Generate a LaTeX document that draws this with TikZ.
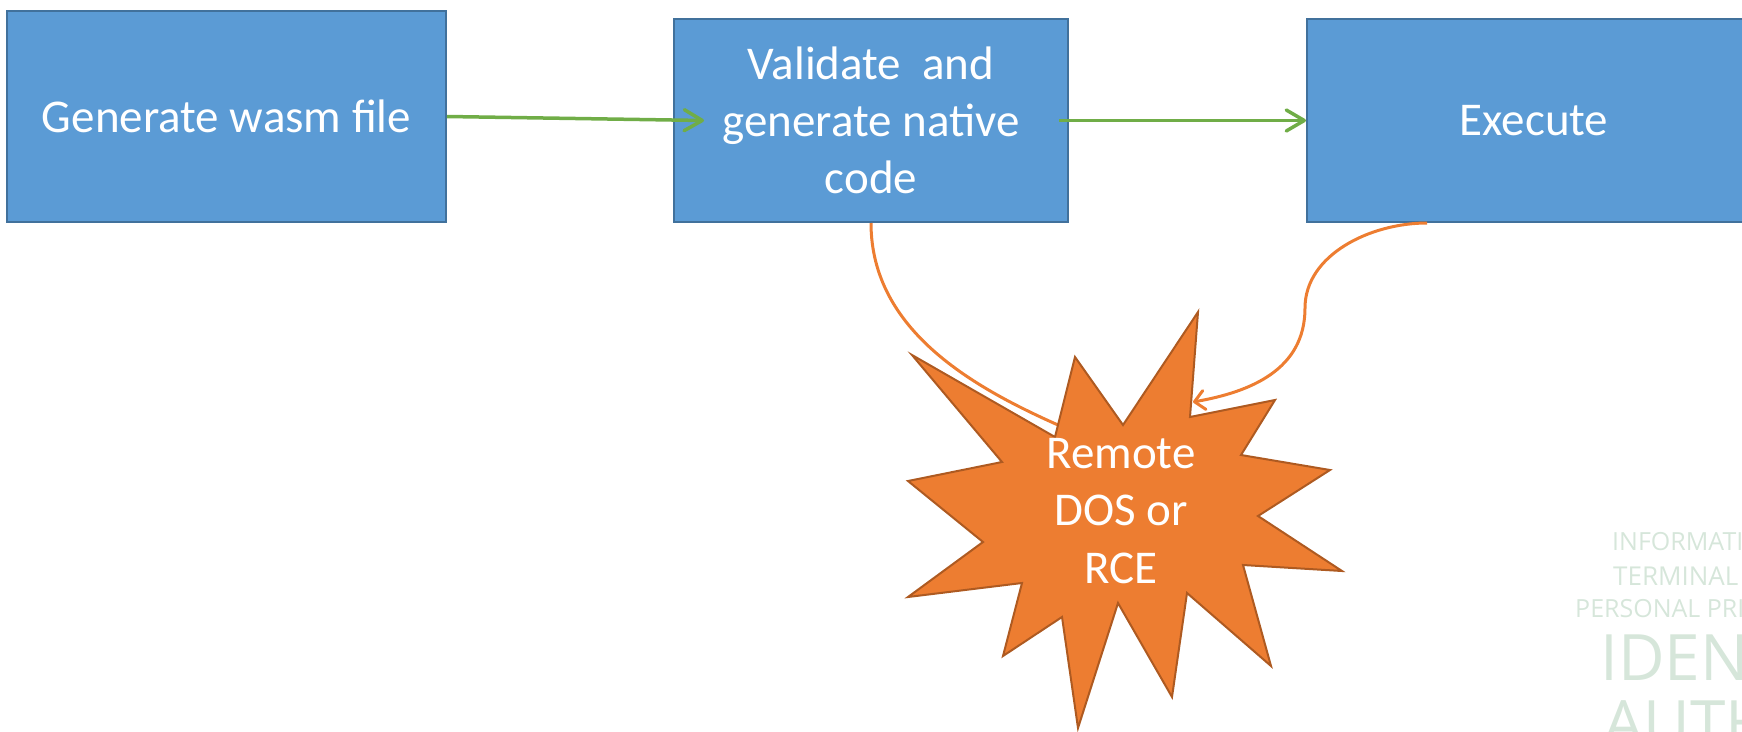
\documentclass[tikz,border=0pt]{standalone}
\usepackage{fontspec}
\setmainfont{Carlito}
\newfontfamily\markfont{Open Sans}
\usetikzlibrary{arrows.meta}

\definecolor{boxfill}{HTML}{5B9BD5}
\definecolor{boxline}{HTML}{41719C}
\definecolor{flowgreen}{HTML}{70AD47}
\definecolor{hitorange}{HTML}{ED7D31}
\definecolor{burstline}{HTML}{AE5A21}
\definecolor{logogreen}{RGB}{214,230,218}

\tikzset{
  stagebox/.style={draw=boxline, line width=2pt, fill=boxfill, text=white,
    font=\fontsize{47}{57}\selectfont, align=center, inner sep=0pt},
  flow/.style={draw=flowgreen, line width=3.5pt,
    -{Straight Barb[length=18pt,width=21pt,round]}},
  hit/.style={draw=hitorange, line width=3pt},
  burst/.style={draw=burstline, line width=2pt, fill=hitorange, line join=miter},
  burstlabel/.style={text=white, font=\fontsize{47}{57.5}\selectfont,
    align=center, inner sep=0pt},
  logotext/.style={text=logogreen, anchor=base west, inner sep=0pt}
}

\begin{document}
\begin{tikzpicture}[x=1pt, y=-1pt]
\useasboundingbox (0,0) rectangle (1742,731);
\clip (0,0) rectangle (1742,731);

% pipeline stages
\node[stagebox, minimum width=439pt, minimum height=211pt] (gen) at (226.5,116.5) {Generate wasm file};
\node[stagebox, minimum width=394pt, minimum height=203pt] (val) at (871,120.5) {Validate~~and\\generate native\\code};
\node[stagebox, minimum width=454pt, minimum height=203pt] (exe) at (1534,120.5) {Execute};

% flow between stages
\draw[flow] (gen.east) -- ([xshift=31pt]val.west);
\draw[flow] ([xshift=-10pt]val.east) -- (exe.west);

% attack paths into the burst
\coordinate (hitA) at (1058,425);
\coordinate (hitB) at (1193,402);
\draw[hit] (val.south) .. controls +(0,108) and (975,388) .. (hitA);
\draw[hit, -{Straight Barb[length=10pt,width=19pt,round]}]
  ([xshift=-107pt]exe.south) .. controls +(-57,0) and (1305,255) .. (1305,308)
  .. controls (1305,370) and (1250,392) .. (hitB);

% explosion shape
\draw[burst] (912,355) -- (1055,437) -- (1075,357) -- (1123,425) -- (1198,312)
  -- (1190,417) -- (1275,400) -- (1241,455) -- (1330,470) -- (1258,516)
  -- (1342,571) -- (1243,565) -- (1271,666) -- (1187,593) -- (1172,697)
  -- (1118,603) -- (1078,728) -- (1062,617) -- (1003,656) -- (1022,583)
  -- (908,597) -- (983,542) -- (908,481) -- (1002,462) -- cycle;
\node[burstlabel] (boom) at (1121,511) {Remote\\DOS or\\RCE};

% faint logo text in the corner
\node[logotext, font=\markfont\fontsize{25}{25}\selectfont] (m1) at (1612,550) {INFORMATI};
\node[logotext, font=\markfont\fontsize{26}{26}\selectfont] (m2) at (1613,585) {TERMINAL};
\node[logotext, font=\markfont\fontsize{25}{25}\selectfont] (m3) at (1575,617) {PERSONAL PRI};
\node[logotext, font=\markfont\fontsize{64}{64}\selectfont] (m4) at (1600,680) {IDENT};
\node[logotext, font=\markfont\fontsize{64}{64}\selectfont] (m5) at (1603,746) {AUTH};
\end{tikzpicture}
\end{document}
